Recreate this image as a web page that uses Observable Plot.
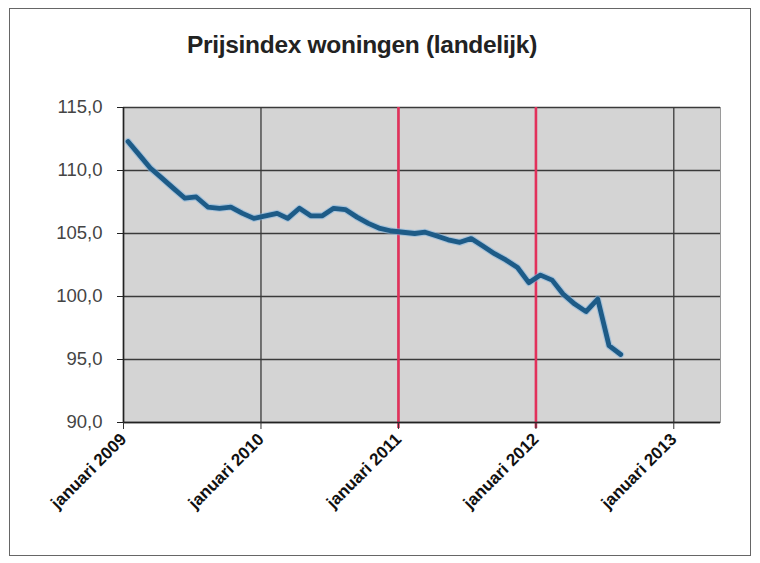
<!DOCTYPE html>
<html><head><meta charset="utf-8">
<script src="https://cdn.jsdelivr.net/npm/d3@7"></script>
<script src="https://cdn.jsdelivr.net/npm/@observablehq/plot@0.6"></script>
<style>
body{margin:0;background:#fff;}
#wrap{position:relative;width:760px;height:563px;overflow:hidden;font-family:"Liberation Sans",Arial,sans-serif;}
#border{position:absolute;left:9px;top:8px;width:740px;height:546px;border:1px solid #666;}
#title{position:absolute;left:0;top:31px;width:724px;text-align:center;font-weight:bold;font-size:24.5px;color:#222;letter-spacing:-0.3px;}
#chart{position:absolute;left:0;top:0;}
</style></head><body>
<div id="wrap"><div id="border"></div><div id="title">Prijsindex woningen (landelijk)</div><div id="chart"></div></div>
<script>
// Monthly price index, January 2009 - August 2012
const startYear = 2009;
const values = [
  112.3, 111.2, 110.2, 109.4, 108.6, 107.8, 107.9, 107.1, 107.0, 107.1, 106.6, 106.2,
  106.4, 106.6, 106.2, 107.0, 106.4, 106.4, 107.0, 106.9, 106.3, 105.8, 105.4, 105.2,
  105.1, 105.0, 105.1, 104.8, 104.5, 104.3, 104.6, 104.0, 103.4, 102.9, 102.3, 101.1,
  101.7, 101.3, 100.2, 99.4, 98.8, 99.8, 96.1, 95.4
];
const yTicks = [90, 95, 100, 105, 110, 115];
const yearTicks = [2009, 2010, 2011, 2012, 2013];
const tickLabels = ["januari 2009", "januari 2010", "januari 2011", "januari 2012", "januari 2013"];
const markerYears = [2011, 2012];

const data = values.map((v, i) => ({date: new Date(Date.UTC(startYear, i, 13)), value: v}));
const yearDates = yearTicks.map(y => new Date(Date.UTC(y, 0, 1)));
const markerDates = markerYears.map(y => new Date(Date.UTC(y, 0, 1)));
const x0 = new Date(Date.UTC(2009, 0, 1));
const x1 = new Date(Date.UTC(2013, 4, 5));

const chart = Plot.plot({
  width: 760,
  height: 563,
  marginLeft: 123,
  marginRight: 40,
  marginTop: 107,
  marginBottom: 141,
  style: {fontFamily: "Liberation Sans, Arial, sans-serif", background: "transparent", overflow: "visible"},
  x: {type: "utc", domain: [x0, x1]},
  y: {domain: [90, 115]},
  marks: [
    Plot.frame({fill: "#d4d4d4", stroke: "#9a9a9a"}),
    Plot.ruleY(yTicks, {stroke: "#3a3a3a", strokeWidth: 1.5}),
    Plot.ruleX(yearDates, {stroke: "#3a3a3a", strokeWidth: 1.3}),
    Plot.ruleX(markerDates, {stroke: "#e2315b", strokeWidth: 2.6, insetBottom: -6}),
    Plot.ruleX([x0], {stroke: "#222", strokeWidth: 1.5}),
    Plot.ruleY([90], {stroke: "#222", strokeWidth: 1.5}),
    Plot.line(data, {x: "date", y: "value", stroke: "#7fb3de", strokeWidth: 7, strokeOpacity: 0.55, strokeLinejoin: "round", strokeLinecap: "round"}),
    Plot.line(data, {x: "date", y: "value", stroke: "#1d5b87", strokeWidth: 4.8, strokeLinejoin: "round", strokeLinecap: "round"}),
    Plot.axisY({
      ticks: yTicks, tickSize: 6, tickPadding: 15, fontSize: 18.5,
      stroke: "#222", fill: "#444",
      tickFormat: d => d.toFixed(1).replace(".", ","),
      label: null
    }),
    Plot.axisX({
      ticks: yearDates, tickSize: 7, tickPadding: 7, tickRotate: -45,
      fontSize: 17, fontWeight: "bold", stroke: "#333", fill: "#111",
      tickFormat: d => tickLabels[yearTicks.indexOf(d.getUTCFullYear())],
      label: null
    })
  ]
});
document.getElementById("chart").appendChild(chart);
</script>
</body></html>
